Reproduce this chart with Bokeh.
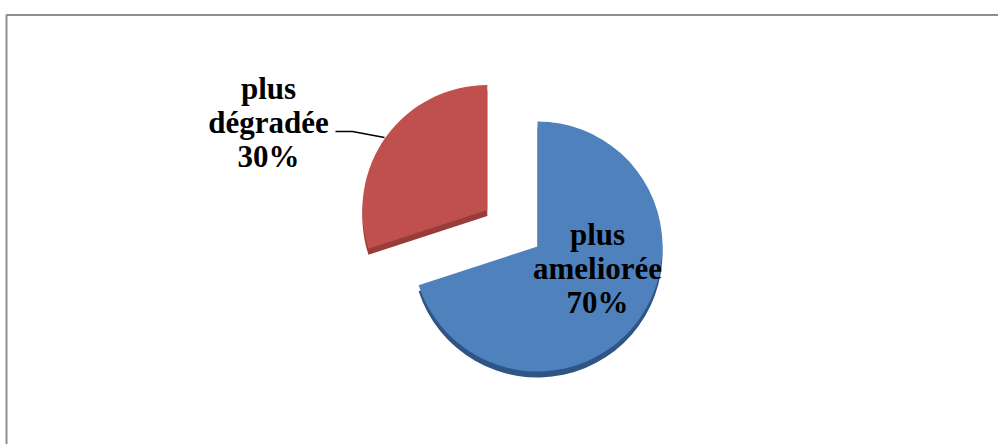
import numpy as np
from bokeh.plotting import figure
from bokeh.models import Range1d
from bokeh.core.properties import value
from bokeh.embed import file_html
from bokeh.resources import INLINE

# ---- data ----
categories = ["plus ameliorée", "plus dégradée"]
shares = [70, 30]
colors = ["#4F81BD", "#C0504D"]
side_colors = ["#2F5585", "#983C39"]
explode = [0, 62]

# ---- figure (1 data unit == 1 px; y measured upward from picture bottom) ----
W, H = 998, 444
PAGE_H = 444
p = figure(width=W, height=H,
           x_range=Range1d(0, W), y_range=Range1d(PAGE_H - H, PAGE_H),
           output_backend="svg", toolbar_location=None, min_border=0)
p.axis.visible = False
p.grid.visible = False
p.outline_line_color = None
p.background_fill_color = "white"
p.border_fill_color = "white"

def py(y):
    return PAGE_H - y

# chart frame (left and top edges visible)
p.line([6, 6, 1200], [py(600), py(14.5), py(14.5)], line_color="#8E8E8E", line_width=2)

cx, cy = 537, py(246)
R = 125
depth = 6

total = float(sum(shares))
cum = np.concatenate([[0], np.cumsum(shares)]) / total
starts = np.pi / 2 - 2 * np.pi * cum[:-1]
ends = np.pi / 2 - 2 * np.pi * cum[1:]
mids = (starts + ends) / 2
xs = cx + np.array(explode) * np.cos(mids)
ys = cy + np.array(explode) * np.sin(mids)

# side (thickness) of 3D pie
p.wedge(x=list(xs), y=list(ys - depth), radius=R, start_angle=list(starts), end_angle=list(ends),
        direction="clock", fill_color=side_colors, line_color=None)
# top faces
p.wedge(x=list(xs), y=list(ys), radius=R, start_angle=list(starts), end_angle=list(ends),
        direction="clock", fill_color=colors, line_color=None)

# labels
font = value("Liberation Serif")
label_pos = [(597, [234, 268, 302]), (268, [88, 122, 156])]
for cat, sh, (lx, lys) in zip(categories, shares, label_pos):
    lines = cat.split(" ") + [f"{sh}%"]
    p.text(x=[lx] * len(lines), y=[py(v) for v in lys], text=lines,
           text_font=font, text_font_style="bold", text_font_size="31px",
           text_align="center", text_baseline="alphabetic", text_color="black")

# leader line for the outside label
p.line([335, 352, 384], [py(131), py(131), py(137)], line_color="black", line_width=1.5)

open("out.html", "w").write(file_html(p, INLINE))
